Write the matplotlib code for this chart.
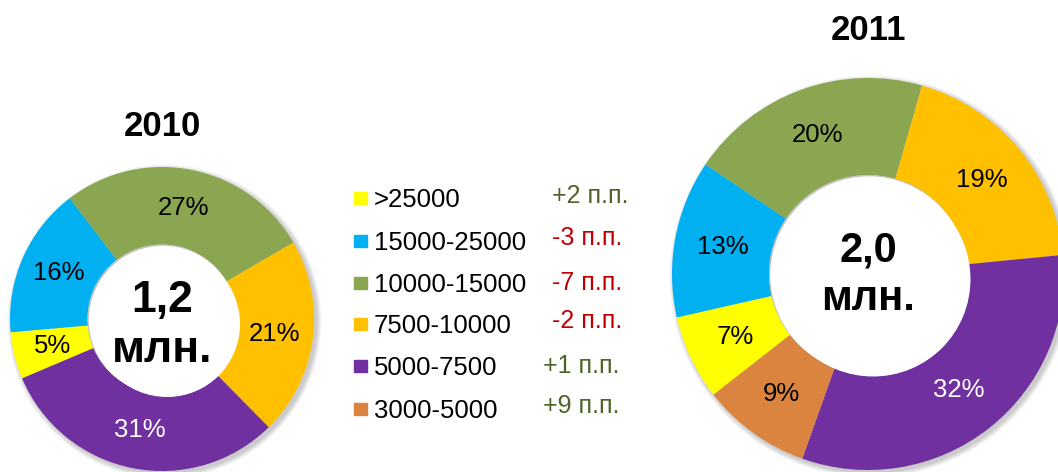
import matplotlib
matplotlib.use("Agg")
import matplotlib.pyplot as plt
from matplotlib.patches import Circle

plt.rcParams['font.family'] = ['Liberation Sans', 'DejaVu Sans']

W, H = 1058, 472

categories = [">25000", "15000-25000", "10000-15000", "7500-10000", "5000-7500", "3000-5000"]
colors = ["#FFFF00", "#00B0F0", "#8BA650", "#FFC000", "#7030A0", "#DA8440"]
values_2010 = [5, 16, 27, 21, 31, 0]
values_2011 = [7, 13, 20, 19, 32, 9]
changes = ["+2 п.п.", "-3 п.п.", "-7 п.п.", "-2 п.п.", "+1 п.п.", "+9 п.п."]
totals = ["1,2\nмлн.", "2,0\nмлн."]
years = ["2010", "2011"]

fig = plt.figure(figsize=(W / 100, H / 100), dpi=100)


def fx(x):
    return x / W


def fy(y):
    return 1 - y / H


def donut(cx, cy, R, width, values, start, total, title, title_y,
          tot_size, base1, base2):
    ax = fig.add_axes([fx(cx - R - 10), fy(cy + R + 10), (2 * R + 20) / W, (2 * R + 20) / H])
    lim = (R + 10) / R
    ringmid = 1 - width / 2
    px = 1 / R
    # soft outer shadow
    for k in range(6):
        ax.add_patch(Circle((2.5 * px, -2.5 * px), 1 + (k + 0.5) * px * 0.9,
                            color="black", alpha=0.035, lw=0, zorder=0))
    wedges, texts, autotexts = ax.pie(
        values, colors=colors, startangle=start, counterclock=False,
        radius=1, wedgeprops=dict(width=width, linewidth=0),
        autopct=lambda p: f"{p:.0f}%" if p > 0.5 else "",
        pctdistance=ringmid, textprops=dict(fontsize=18.5))
    for w in wedges:
        w.set_zorder(2)
    for i, t in enumerate(autotexts):
        t.set_color("white" if i == 4 else "black")
        t.set_zorder(5)
    # inner hole shadow (upper-left crescent)
    rin = 1 - width
    ax.add_patch(Circle((0, 0), rin, color="white", lw=0, zorder=3))
    for k in range(5):
        ax.add_patch(Circle((0, 0), rin, color="black", alpha=0.05, lw=0, zorder=3.1))
        ax.add_patch(Circle(((k + 1) * 1.0 * px, -(k + 1) * 1.0 * px), rin - (k + 1) * 0.3 * px,
                            color="white", lw=0, zorder=3.2 + k * 0.01))
    ax.add_patch(Circle((6 * px, -6 * px), rin - 3 * px, color="white", lw=0, zorder=3.3))
    ax.set_xlim(-lim, lim)
    ax.set_ylim(-lim, lim)
    ax.set_aspect('equal')
    ax.axis('off')
    line1, line2 = total.split("\n")
    fig.text(fx(cx), fy(base1), line1, ha='center', va='baseline',
             fontsize=tot_size, fontweight='bold', zorder=10)
    fig.text(fx(cx), fy(base2), line2, ha='center', va='baseline',
             fontsize=tot_size, fontweight='bold', zorder=10)
    fig.text(fx(cx), fy(title_y), title, ha='center', va='center',
             fontsize=25, fontweight='bold')


donut(162, 319, 152, 0.51, values_2010, 203, totals[0], years[0], 126, 32, 312, 362)
donut(868, 274, 196, 0.495, values_2011, 218, totals[1], years[1], 30, 30, 262, 310)

# legend
leg_base = [207, 250, 292, 333, 375, 418]
chg_base = [203, 245, 290, 328, 373, 413]
chg_x = [552, 552, 552, 552, 543, 543]
for i, cat in enumerate(categories):
    fig.patches.append(plt.Rectangle((fx(354), fy(leg_base[i] - 3)), 13 / W, 12 / H,
                                     transform=fig.transFigure, color=colors[i]))
    fig.text(fx(374), fy(leg_base[i]), cat, ha='left', va='baseline', fontsize=18.5)
    col = "#C00000" if changes[i].startswith("-") else "#4F6228"
    fig.text(fx(chg_x[i]), fy(chg_base[i]), changes[i], ha='left', va='baseline',
             fontsize=18, color=col)

fig.savefig("out.png", dpi=100)
